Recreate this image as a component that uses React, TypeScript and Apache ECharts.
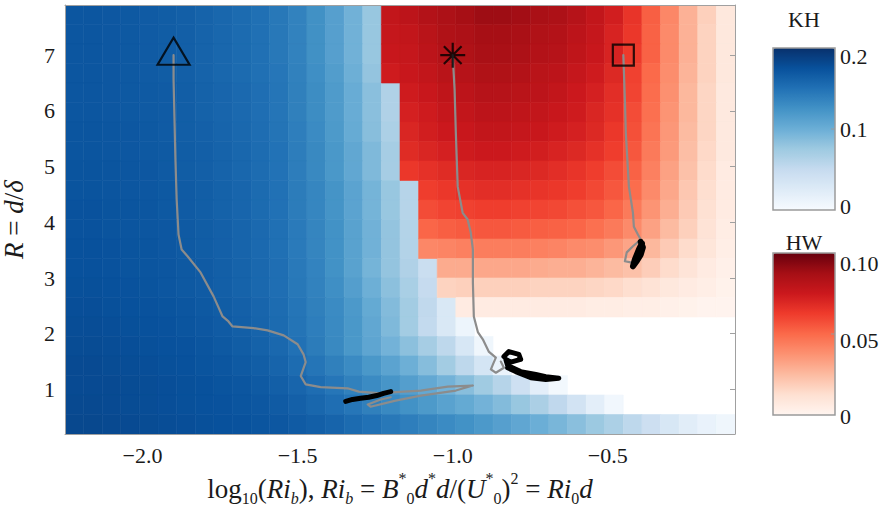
import React, { useEffect, useRef } from 'react';
import * as echarts from 'echarts';

const FONT = 'Liberation Serif';
const INK = '#1a1a1a';

// heat-map grid (cell centres)
const xCenters = [-2.22, -2.16, -2.1, -2.04, -1.98, -1.92, -1.86, -1.8, -1.74, -1.68, -1.62, -1.56, -1.5, -1.44, -1.38, -1.32, -1.26, -1.2, -1.14, -1.08, -1.02, -0.96, -0.9, -0.84, -0.78, -0.72, -0.66, -0.6, -0.54, -0.48, -0.42, -0.36, -0.3, -0.24, -0.18, -0.12];
const rCenters = [7.725, 7.375, 7.025, 6.675, 6.325, 5.975, 5.625, 5.275, 4.925, 4.575, 4.225, 3.875, 3.525, 3.175, 2.825, 2.475, 2.125, 1.775, 1.425, 1.075, 0.725, 0.375];

// KH growth rate (x 1e-3), row by row from the top, columns from the left
const khRows = [
  [171, 171, 170, 169, 167, 166, 164, 161, 158, 155, 151, 145, 137, 126, 113, 97, 78],
  [171, 171, 170, 169, 167, 166, 164, 161, 158, 155, 151, 145, 137, 126, 113, 97, 78],
  [171, 171, 170, 169, 167, 166, 164, 161, 158, 155, 151, 145, 137, 126, 113, 97, 78],
  [171, 171, 170, 169, 167, 166, 164, 161, 158, 155, 151, 146, 138, 127, 115, 99, 80],
  [171, 171, 170, 169, 168, 167, 165, 162, 159, 156, 152, 147, 139, 129, 117, 102, 85, 64],
  [171, 171, 170, 169, 168, 167, 165, 162, 159, 156, 152, 147, 139, 129, 117, 102, 85, 64],
  [172, 172, 171, 170, 169, 167, 165, 163, 160, 157, 153, 148, 140, 130, 118, 103, 86, 66],
  [172, 172, 171, 170, 169, 168, 166, 164, 161, 158, 154, 149, 141, 132, 120, 106, 90, 70],
  [173, 173, 172, 171, 170, 168, 166, 164, 161, 158, 154, 149, 141, 132, 120, 106, 90, 70],
  [173, 173, 172, 171, 170, 169, 167, 165, 162, 159, 155, 150, 142, 134, 123, 110, 95, 78, 60],
  [174, 174, 173, 172, 171, 169, 167, 165, 162, 159, 155, 150, 142, 134, 123, 110, 95, 78, 60],
  [174, 174, 173, 172, 171, 170, 168, 166, 163, 160, 156, 151, 143, 135, 125, 111, 97, 80, 62],
  [175, 175, 174, 173, 172, 170, 168, 166, 163, 160, 156, 151, 143, 135, 125, 111, 97, 80, 62],
  [175, 175, 174, 173, 172, 171, 169, 167, 164, 161, 157, 152, 144, 136, 125, 111, 95, 80, 64, 46],
  [176, 176, 175, 174, 173, 171, 169, 167, 164, 161, 157, 152, 145, 137, 127, 114, 99, 84, 68, 50],
  [177, 177, 176, 175, 174, 173, 171, 169, 166, 163, 159, 154, 147, 139, 130, 119, 104, 88, 72, 53, 30],
  [178, 178, 177, 176, 175, 174, 172, 170, 167, 164, 160, 155, 148, 140, 131, 120, 106, 90, 72, 52, 30, 10],
  [179, 179, 178, 177, 176, 175, 174, 172, 169, 166, 162, 157, 150, 142, 132, 120, 108, 96, 84, 70, 55, 32, 8],
  [180, 180, 179, 178, 177, 176, 175, 173, 171, 168, 165, 160, 154, 147, 139, 130, 120, 110, 99, 87, 72, 55, 35, 12],
  [180, 180, 180, 179, 178, 177, 176, 175, 173, 171, 168, 164, 159, 153, 146, 138, 130, 122, 114, 105, 96, 86, 74, 60, 42, 20, 5],
  [181, 181, 180, 179, 178, 177, 176, 175, 174, 172, 170, 167, 163, 158, 152, 146, 139, 132, 125, 118, 111, 104, 96, 88, 78, 67, 54, 38, 20, 6],
  [182, 182, 181, 180, 179, 178, 177, 176, 175, 174, 172, 170, 167, 164, 160, 155, 150, 145, 140, 135, 130, 125, 119, 113, 107, 100, 93, 85, 76, 66, 55, 43, 32, 22, 14, 8],
];

// HW growth rate (x 1e-3), rows from the top, columns starting at hwFirstColumn
const hwFirstColumn = 17;
const hwRows = [
  [78, 80, 83, 85, 87, 89, 89, 88, 86, 85, 82, 78, 73, 65, 53, 41, 28, 18, 8],
  [77, 78, 81, 84, 85, 87, 87, 86, 84, 83, 80, 77, 71, 64, 52, 40, 28, 17, 8],
  [76, 77, 80, 83, 84, 86, 86, 85, 83, 82, 79, 76, 71, 63, 52, 40, 28, 17, 8],
  [74, 76, 78, 81, 82, 84, 84, 83, 81, 80, 77, 74, 69, 61, 50, 39, 27, 17, 8],
  [0, 74, 76, 79, 80, 82, 82, 81, 80, 78, 75, 72, 67, 60, 49, 38, 26, 16, 7],
  [0, 72, 74, 77, 78, 80, 80, 79, 78, 76, 74, 70, 66, 58, 48, 37, 26, 16, 7],
  [0, 70, 73, 75, 76, 78, 78, 77, 76, 74, 72, 69, 64, 57, 47, 36, 25, 16, 7],
  [0, 68, 70, 72, 74, 75, 75, 74, 73, 71, 69, 66, 62, 55, 45, 35, 24, 15, 7],
  [0, 64, 66, 68, 70, 71, 71, 70, 69, 67, 65, 62, 58, 52, 43, 33, 23, 14, 6],
  [0, 0, 62, 64, 66, 67, 67, 66, 65, 64, 62, 59, 55, 49, 40, 31, 21, 13, 6],
  [0, 0, 58, 60, 61, 62, 62, 61, 60, 59, 57, 55, 51, 45, 37, 29, 20, 12, 6],
  [0, 0, 51, 53, 54, 55, 55, 54, 53, 52, 51, 48, 45, 40, 33, 25, 18, 11, 5],
  [0, 0, 41, 42, 43, 44, 44, 44, 43, 42, 40, 39, 36, 32, 26, 20, 14, 9, 4],
  [0, 0, 0, 30, 30, 31, 31, 31, 30, 29, 29, 27, 25, 23, 19, 14, 10, 6, 3],
  [0, 0, 0, 17, 18, 18, 18, 18, 17, 17, 17, 16, 15, 13, 11, 8, 6, 4, 2],
  [0, 0, 0, 0, 6, 6, 6, 6, 6, 6, 6, 5, 5, 4, 4, 3, 2, 1, 1],
];

// trajectories [log10(Ri_b), R]
const traj1Gray = [[-1.9, 7.0], [-1.9, 6.56], [-1.897, 5.84], [-1.894, 5.13], [-1.89, 4.41], [-1.884, 3.78], [-1.874, 3.51], [-1.855, 3.39], [-1.813, 3.1], [-1.771, 2.67], [-1.742, 2.31], [-1.723, 2.22], [-1.71, 2.13], [-1.642, 2.1], [-1.597, 2.06], [-1.545, 1.97], [-1.5, 1.81], [-1.481, 1.63], [-1.474, 1.49], [-1.49, 1.24], [-1.474, 1.09], [-1.426, 1.04], [-1.339, 1.02], [-1.303, 0.96], [-1.232, 0.93], [-1.184, 0.95], [-1.103, 0.98], [-1.016, 1.05], [-0.935, 1.07], [-0.99, 0.98], [-1.103, 0.89], [-1.184, 0.8], [-1.265, 0.69], [-1.274, 0.73], [-1.232, 0.82], [-1.2, 0.86]];
const traj1Black = [[-1.345, 0.785], [-1.323, 0.82], [-1.297, 0.84], [-1.271, 0.86], [-1.245, 0.89], [-1.223, 0.93], [-1.2, 0.96]];
const traj2Gray = [[-1.0, 7.0], [-0.994, 6.38], [-0.99, 5.61], [-0.984, 4.64], [-0.968, 4.17], [-0.952, 4.05], [-0.942, 3.82], [-0.935, 3.51], [-0.935, 2.92], [-0.932, 2.31], [-0.919, 2.03], [-0.903, 1.9], [-0.884, 1.68], [-0.861, 1.57], [-0.868, 1.48], [-0.877, 1.36], [-0.861, 1.3], [-0.835, 1.39], [-0.845, 1.5]];
const traj2Black = [[-0.835, 1.59], [-0.819, 1.68], [-0.787, 1.63], [-0.781, 1.54], [-0.813, 1.49], [-0.829, 1.54], [-0.823, 1.43], [-0.781, 1.32], [-0.732, 1.27], [-0.7, 1.23], [-0.658, 1.2], [-0.7, 1.18], [-0.748, 1.21], [-0.797, 1.32], [-0.823, 1.39]];
const traj3Gray = [[-0.45, 7.0], [-0.445, 6.2], [-0.442, 5.61], [-0.432, 4.64], [-0.419, 4.17], [-0.416, 3.92], [-0.403, 3.78], [-0.394, 3.69], [-0.419, 3.57], [-0.439, 3.46], [-0.445, 3.3], [-0.426, 3.28]];
const traj3Black = [[-0.394, 3.65], [-0.387, 3.55], [-0.394, 3.42], [-0.406, 3.31], [-0.419, 3.21], [-0.413, 3.33], [-0.4, 3.51], [-0.39, 3.62]];
const startTriangle = [-1.9, 7.0];
const startStar = [-1.0, 7.0];
const startSquare = [-0.45, 7.0];

const xTicks = [-2.0, -1.5, -1.0, -0.5];
const yTicks = [1, 2, 3, 4, 5, 6, 7];
const khBarLabels = ['0.2', '0.1', '0'];
const hwBarLabels = ['0.10', '0.05', '0'];

const blues = ['#f7fbff', '#deebf7', '#c6dbef', '#9ecae1', '#6baed6', '#4292c6', '#2171b5', '#08519c', '#08306b'];
const reds = ['#fff5f0', '#fee0d2', '#fcbba1', '#fc9272', '#fb6a4a', '#ef3b2c', '#cb181d', '#a50f15', '#67000d'];

function buildKH() {
  const out: number[][] = [];
  khRows.forEach((row, j) => row.forEach((v, i) => { if (v > 0) out.push([xCenters[i], rCenters[j], v / 1000]); }));
  return out;
}
function buildHW() {
  const out: number[][] = [];
  hwRows.forEach((row, j) => row.forEach((v, k) => { if (v > 0) out.push([xCenters[hwFirstColumn + k], rCenters[j], v / 1000]); }));
  return out;
}

const dx = xCenters[1] - xCenters[0];
const dy = rCenters[0] - rCenters[1];

const cellRender = (_p: any, api: any) => {
  const x = api.value(0);
  const y = api.value(1);
  const a = api.coord([x - dx / 2, y + dy / 2]);
  const b = api.coord([x + dx / 2, y - dy / 2]);
  const c = api.visual('color');
  return { type: 'rect', shape: { x: a[0], y: a[1], width: b[0] - a[0], height: b[1] - a[1] }, style: { fill: c, stroke: c, lineWidth: 0.6 } };
};

const fmtX = (v: number) => (v < 0 ? '\u2212' : '') + Math.abs(v).toFixed(1);

const sub = { fontFamily: FONT, fontSize: 16, lineHeight: 20, verticalAlign: 'bottom', color: INK };
const rich = {
  t: { fontFamily: FONT, fontSize: 27, lineHeight: 36, color: INK },
  i: { fontFamily: FONT, fontSize: 27, lineHeight: 36, fontStyle: 'italic', color: INK },
  s: sub,
  si: { ...sub, fontStyle: 'italic' },
  sp: { fontFamily: FONT, fontSize: 16, lineHeight: 20, verticalAlign: 'top', color: INK },
};
const xName = '{t|log}{s|10}{t|(}{i|Ri}{si|b}{t|), }{i|Ri}{si|b}{t| = }{i|B}{sp|*}{s|0}{i|d}{sp|*}{i|d}{t|/(}{i|U}{sp|*}{s|0}{t|)}{sp|2}{t| = }{i|Ri}{s|0}{i|d}';
const yName = '{i|R}{t| = }{i|d}{t|/}{i|\u03b4}';

const frame = { show: true, lineStyle: { color: '#a0a0a0', width: 1 } };

function lineSeries(data: number[][], color: string, width: number, z: number) {
  return { type: 'line', data, showSymbol: false, symbol: 'none', silent: true, z, lineStyle: { color, width, cap: 'round', join: 'round' } };
}
function marker(pos: number[], symbol: string, size: any, offset: number[]) {
  return { type: 'scatter', data: [pos], symbol, symbolSize: size, symbolOffset: offset, silent: true, z: 6, itemStyle: { color: 'rgba(0,0,0,0)', borderColor: '#000', borderWidth: 2.2 } };
}

function txt(x: number, y: number, text: string, align: string) {
  return { type: 'text', x, y, z: 100, style: { text, fontFamily: FONT, fontSize: 22, fill: INK, align, textAlign: align, verticalAlign: 'middle', textVerticalAlign: 'middle' } };
}

export default function App() {
  const ref = useRef<HTMLDivElement>(null);
  useEffect(() => {
    const chart = echarts.init(ref.current!, null, { renderer: 'svg' });
    const option: any = {
      animation: false,
      backgroundColor: '#ffffff',
      textStyle: { fontFamily: FONT },
      grid: { left: 65, top: 5, width: 670, height: 429, containLabel: false, outerBoundsMode: 'none' },
      xAxis: [
        {
          type: 'value', min: -2.25, max: -0.09, position: 'bottom', z: 8,
          axisLine: frame, axisTick: { show: false }, splitLine: { show: false },
          axisLabel: { customValues: xTicks, formatter: fmtX, fontFamily: FONT, fontSize: 22, color: INK, margin: 10 },
          name: xName, nameLocation: 'middle', nameGap: 36, nameTextStyle: { rich },
        },
        { type: 'value', min: -2.25, max: -0.09, position: 'top', z: 8, axisLine: frame, axisTick: { show: false }, axisLabel: { show: false }, splitLine: { show: false } },
      ],
      yAxis: [
        {
          type: 'value', min: 0.2, max: 7.9, position: 'left', z: 8,
          axisLine: frame, axisTick: { show: false }, splitLine: { show: false },
          axisLabel: { customValues: yTicks, fontFamily: FONT, fontSize: 22, color: INK, margin: 10 },
          name: yName, nameLocation: 'middle', nameRotate: 90, nameGap: 33, nameTextStyle: { rich },
        },
        {
          type: 'value', min: 0.2, max: 7.9, position: 'right', z: 8,
          axisLine: frame, axisTick: { show: true, inside: true, length: 5, customValues: yTicks, lineStyle: { color: '#a0a0a0' } },
          axisLabel: { show: false }, splitLine: { show: false },
        },
      ],
      visualMap: [
        { type: 'continuous', seriesIndex: 0, dimension: 2, min: 0, max: 0.2, inRange: { color: blues }, show: true, calculable: false, hoverLink: false, orient: 'vertical', left: 773, top: 48, itemWidth: 62, itemHeight: 162, padding: 0 },
        { type: 'continuous', seriesIndex: 1, dimension: 2, min: 0, max: 0.1, inRange: { color: reds }, show: true, calculable: false, hoverLink: false, orient: 'vertical', left: 773, top: 253, itemWidth: 62, itemHeight: 162, padding: 0 },
      ],
      series: [
        { type: 'custom', name: 'KH', renderItem: cellRender, data: buildKH(), encode: { x: 0, y: 1 }, dimensions: ['x', 'r', 'kh'], z: 1, silent: true, clip: true },
        { type: 'custom', name: 'HW', renderItem: cellRender, data: buildHW(), encode: { x: 0, y: 1 }, dimensions: ['x', 'r', 'hw'], z: 1, silent: true, clip: true },
        lineSeries(traj1Gray, '#8c8c8c', 2.2, 3),
        lineSeries(traj2Gray, '#8c8c8c', 2.2, 3),
        lineSeries(traj3Gray, '#8c8c8c', 2.2, 3),
        lineSeries(traj1Black, '#000000', 5, 4),
        lineSeries(traj2Black, '#000000', 5, 4),
        lineSeries(traj3Black, '#000000', 6, 4),
        marker(startTriangle, 'triangle', [32, 27], [0, -4]),
        marker(startStar, 'path://M12,0 L12,24 M0,12 L24,12 M3.5,3.5 L20.5,20.5 M3.5,20.5 L20.5,3.5', [25, 25], [0, 0]),
        marker(startSquare, 'rect', [21, 21], [0, 0]),
      ],
      graphic: [
        { type: 'rect', z: 100, shape: { x: 773, y: 48, width: 62, height: 162 }, style: { fill: 'none', stroke: '#9a9a9a', lineWidth: 1.5 } },
        { type: 'rect', z: 100, shape: { x: 773, y: 253, width: 62, height: 162 }, style: { fill: 'none', stroke: '#9a9a9a', lineWidth: 1.5 } },
        { type: 'line', z: 100, shape: { x1: 831, y1: 129, x2: 835, y2: 129 }, style: { stroke: '#9a9a9a', lineWidth: 1 } },
        { type: 'line', z: 100, shape: { x1: 831, y1: 334, x2: 835, y2: 334 }, style: { stroke: '#9a9a9a', lineWidth: 1 } },
        txt(804, 19, 'KH', 'center'),
        txt(840, 56, khBarLabels[0], 'left'),
        txt(840, 129, khBarLabels[1], 'left'),
        txt(840, 206, khBarLabels[2], 'left'),
        txt(804, 242, 'HW', 'center'),
        txt(840, 263, hwBarLabels[0], 'left'),
        txt(840, 340, hwBarLabels[1], 'left'),
        txt(840, 416, hwBarLabels[2], 'left'),
      ],
    };
    chart.setOption(option);
    return () => chart.dispose();
  }, []);
  return <div ref={ref} style={{ position: 'fixed', left: 0, top: 0, width: 883, height: 509, background: '#fff' }} />;
}
